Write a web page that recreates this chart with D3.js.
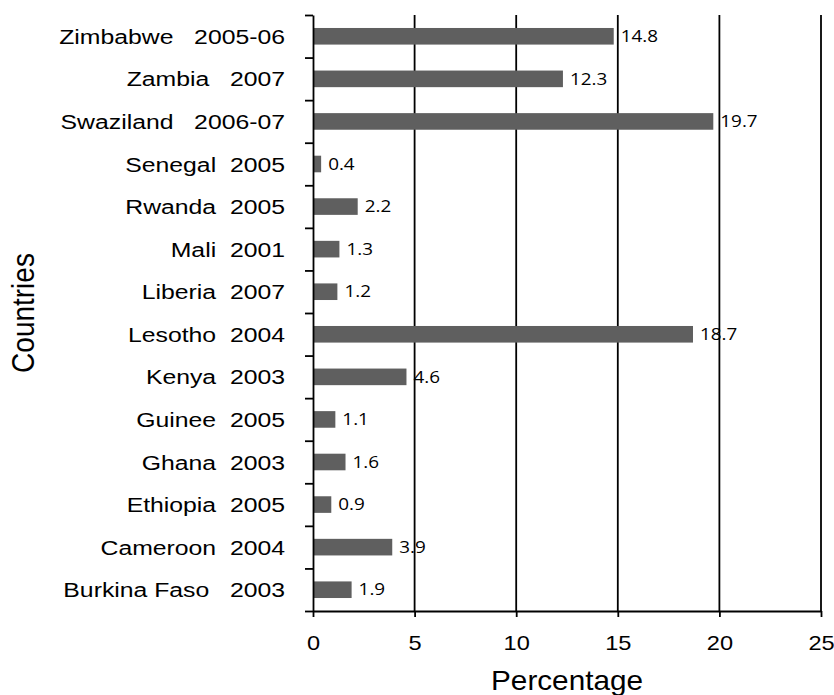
<!DOCTYPE html>
<html>
<head>
<meta charset="utf-8">
<script src="https://cdn.jsdelivr.net/npm/d3@7"></script>
<style>
  body { margin: 0; background: #fff; }
  text { font-family: "Liberation Sans", Arial, sans-serif; }
</style>
</head>
<body>
<script>
var width = 834;
var height = 695;
var margin = { top: 15, right: 13, bottom: 84, left: 313 };
var stretch = 1.18; // the reference text looks widened horizontally

// data, top row first
var categories = [
  "Zimbabwe   2005-06", "Zambia   2007", "Swaziland   2006-07", "Senegal  2005",
  "Rwanda  2005", "Mali  2001", "Liberia  2007", "Lesotho  2004",
  "Kenya  2003", "Guinee  2005", "Ghana  2003", "Ethiopia  2005",
  "Cameroon  2004", "Burkina Faso   2003"
];
var values = [14.8, 12.3, 19.7, 0.4, 2.2, 1.3, 1.2, 18.7, 4.6, 1.1, 1.6, 0.9, 3.9, 1.9];
var xTicks = [0, 5, 10, 15, 20, 25];

var svg = d3.select("body").append("svg")
    .attr("width", width)
    .attr("height", height);

var plotW = width - margin.left - margin.right;
var plotH = height - margin.top - margin.bottom;

var xScale = d3.scaleLinear()
    .domain([0, 25])
    .range([margin.left, margin.left + plotW]);
var yScale = d3.scaleBand()
    .domain(categories)
    .range([margin.top, margin.top + plotH])
    .paddingInner(0.61)
    .paddingOuter(0.305);
// boundaries between categories, for the tick marks
var yEdge = d3.scaleLinear()
    .domain([0, categories.length])
    .range([margin.top, margin.top + plotH]);

// -- grid lines --
svg.selectAll(".grid")
    .data(xTicks.slice(1))
    .enter()
    .append("line")
    .attr("class", "grid")
    .attr("x1", function(d) { return xScale(d); })
    .attr("x2", function(d) { return xScale(d); })
    .attr("y1", margin.top)
    .attr("y2", margin.top + plotH)
    .attr("stroke", "#000")
    .attr("stroke-width", 1.8);

// -- bars --
svg.selectAll(".bar")
    .data(values)
    .enter()
    .append("rect")
    .attr("class", "bar")
    .attr("x", xScale(0))
    .attr("y", function(d, i) { return yScale(categories[i]); })
    .attr("width", function(d) { return xScale(d) - xScale(0); })
    .attr("height", yScale.bandwidth())
    .attr("fill", "#5f5f5f");

// -- value labels --
svg.selectAll(".val")
    .data(values)
    .enter()
    .append("text")
    .attr("class", "val")
    .attr("transform", function(d, i) {
        return "translate(" + (xScale(d) + 7) + "," + (yScale(categories[i]) + yScale.bandwidth() / 2) + ") scale(" + stretch + ",1)";
    })
    .attr("dy", "0.36em")
    .style("font-family", "'Open Sans', 'Noto Sans', sans-serif")
    .attr("font-size", 16)
    .attr("fill", "#000")
    .text(function(d) { return d.toFixed(1); });

// -- axes --
var xAxis = d3.axisBottom(xScale)
    .tickValues(xTicks)
    .tickSize(6)
    .tickSizeOuter(0)
    .tickFormat(d3.format("d"));
var gx = svg.append("g")
    .attr("class", "xAxis")
    .attr("transform", "translate(0," + (margin.top + plotH) + ")")
    .call(xAxis);
gx.selectAll("line, path").attr("stroke", "#000").attr("stroke-width", 1.8);
gx.selectAll("text")
    .attr("y", 39)
    .attr("dy", 0)
    .attr("transform", "scale(" + stretch + ",1)")
    .attr("font-size", 20)
    .style("font-family", "'Liberation Sans', Arial, sans-serif")
    .attr("fill", "#000");

var yAxis = d3.axisLeft(yEdge)
    .tickValues(d3.range(categories.length + 1))
    .tickSize(8)
    .tickSizeOuter(0)
    .tickFormat("");
var gy = svg.append("g")
    .attr("class", "yAxis")
    .attr("transform", "translate(" + margin.left + ",0)")
    .call(yAxis);
gy.selectAll("line, path").attr("stroke", "#000").attr("stroke-width", 1.8);

// -- category labels --
svg.selectAll(".cat")
    .data(categories)
    .enter()
    .append("text")
    .attr("class", "cat")
    .attr("transform", function(d) {
        return "translate(285," + (yScale(d) + yScale.bandwidth() / 2) + ") scale(" + stretch + ",1)";
    })
    .attr("dy", "0.36em")
    .attr("text-anchor", "end")
    .style("white-space", "pre")
    .attr("font-size", 21)
    .attr("fill", "#000")
    .text(function(d) { return d; });

// -- axis titles --
svg.append("text")
    .attr("transform", "translate(" + (margin.left + plotW / 2) + ",690) scale(1.1,1)")
    .attr("text-anchor", "middle")
    .attr("font-size", 27)
    .attr("fill", "#000")
    .text("Percentage");

svg.append("text")
    .attr("transform", "translate(34," + (margin.top + plotH / 2) + ") scale(1.15,1) rotate(-90)")
    .attr("text-anchor", "middle")
    .attr("font-size", 28)
    .attr("fill", "#000")
    .text("Countries");
</script>
</body>
</html>
